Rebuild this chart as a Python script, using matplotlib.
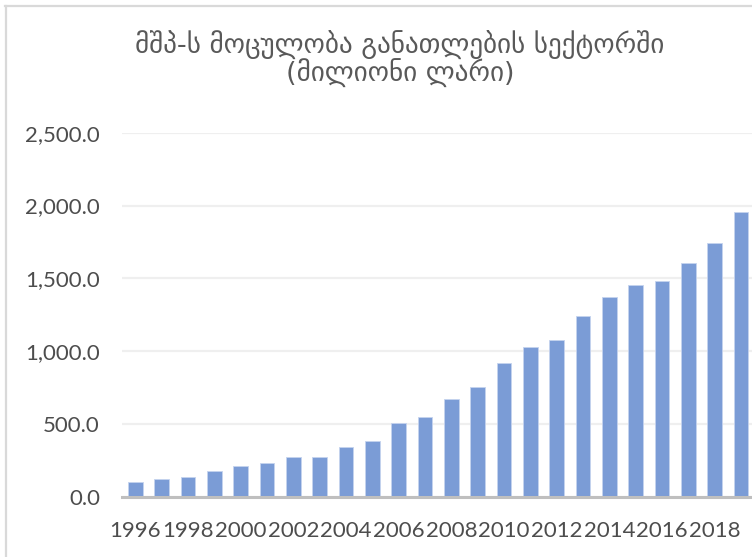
import matplotlib
matplotlib.use("Agg")
import matplotlib.pyplot as plt
from matplotlib.lines import Line2D
from matplotlib.ticker import FuncFormatter, MultipleLocator

# ---- data ----
years = [1996, 1997, 1998, 1999, 2000, 2001, 2002, 2003, 2004, 2005, 2006, 2007,
         2008, 2009, 2010, 2011, 2012, 2013, 2014, 2015, 2016, 2017, 2018, 2019]
values = [101, 124, 139, 181, 213, 236, 272, 277, 343, 384, 508, 549,
          670, 755, 920, 1032, 1075, 1242, 1373, 1457, 1483, 1608, 1741, 1954]
title_line1 = "მშპ-ს მოცულობა განათლების სექტორში"
title_line2 = "(მილიონი ლარი)"

W, H = 752, 557
fig = plt.figure(figsize=(W / 100, H / 100), dpi=100)
fig.patch.set_facecolor("white")

# chart border (cropped: only left and top visible)
border_col = "#d9d9d9"
fig.add_artist(Line2D([5.5 / W, 5.5 / W], [0, 1 - 6 / H], transform=fig.transFigure,
                      color=border_col, lw=1.6))
fig.add_artist(Line2D([5 / W, 1], [1 - 6 / H, 1 - 6 / H], transform=fig.transFigure,
                      color=border_col, lw=1.6))

ax_left = 122.2 / W
ax_w = 632.0 / W
ax_bottom = (H - 497) / H
ax_h = (497 - 132.7) / H
ax = fig.add_axes([ax_left, ax_bottom, ax_w, ax_h])

x = list(range(len(years)))
ax.bar(x, values, width=0.56, color="#7b9cd6", edgecolor="#c5d3ee", linewidth=0.6, zorder=3)

ax.set_xlim(-0.5, len(years) - 0.5)
ax.set_ylim(0, 2500)
ax.yaxis.set_major_locator(MultipleLocator(500))
ax.yaxis.set_major_formatter(FuncFormatter(lambda v, p: f"{v:,.1f}"))
ax.grid(axis="y", color="#efefef", lw=1.6, zorder=0)
ax.set_axisbelow(True)

ticks = x[::2]
ax.set_xticks(ticks)
ax.set_xticklabels([str(years[i]) for i in ticks])

for s in ["top", "right", "left"]:
    ax.spines[s].set_visible(False)
ax.spines["bottom"].set_color("#bfbfbf")
ax.spines["bottom"].set_linewidth(2.2)
ax.spines["bottom"].set_zorder(4)

ax.tick_params(axis="both", length=0, labelcolor="#4d4d4d", labelsize=16)
ax.tick_params(axis="y", pad=16)
ax.tick_params(axis="x", pad=17)
for lab in ax.get_xticklabels() + ax.get_yticklabels():
    lab.set_family("Lato")

fig.text(400 / W, 1 - 54 / H, title_line1, ha="center", va="baseline",
         fontsize=19.5, color="#595959", family=["DejaVu Sans"])
fig.text(400 / W, 1 - 82 / H, title_line2, ha="center", va="baseline",
         fontsize=19.5, color="#595959", family=["DejaVu Sans"])

fig.savefig("out.png", dpi=100, facecolor="white")
